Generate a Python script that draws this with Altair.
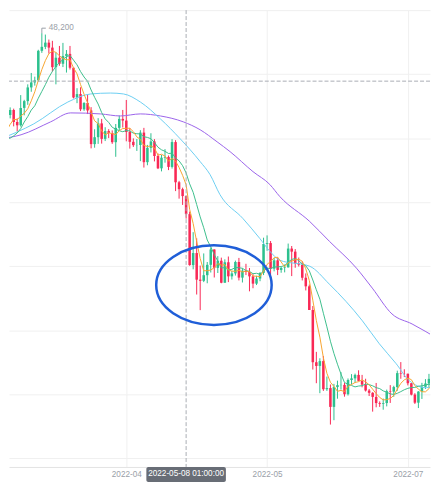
import altair as alt
import pandas as pd

# ---------------- data (daily candles) ----------------
first_day = "2022-03-06"
opens = [
    39400, 38420, 38060, 38740, 41980, 39440, 38790, 38900, 37800, 39670,
    39280, 41140, 40950, 41800, 42190, 41260, 41000, 42360, 42890, 43960,
    44350, 44520, 46820, 47130, 47460, 47070, 45540, 46280, 45810, 46410,
    46580, 45500, 43170, 43440, 42250, 42750, 42160, 39530, 40070, 41150,
    39940, 40550, 40400, 39680, 40800, 41500, 41370, 40480, 39710, 39450,
    39460, 40430, 38120, 39240, 39740, 38600, 37640, 38470, 38530, 37750,
    39690, 36550, 36010, 35470, 34060, 30080, 31020, 28940, 28850, 29290,
    30100, 31300, 29860, 30420, 28700, 30300, 29200, 29430, 30320, 29100,
    29650, 29540, 29200, 28630, 29030, 29470, 31730, 31800, 29800, 30450,
    29700, 29860, 29900, 31370, 31130, 30200, 30110, 29090, 28420, 26570,
    22490, 22200, 22580, 20380, 20470, 19000, 20550, 20700, 20720, 19990,
    21100, 21230, 21500, 21030, 20740, 20280, 20100, 19780, 19300, 19240,
    19300, 20230, 20190, 20550, 21640, 21600, 21590, 20850, 19960, 19330,
    20200, 20570, 20830, 21190, 20790, 22430,
]
highs = [
    39650, 39540, 39360, 42590, 42030, 40240, 39360, 39310, 39920, 39870,
    41720, 41480, 42330, 42400, 42300, 41540, 43360, 42990, 44200, 45090,
    44800, 46900, 48200, 48090, 47700, 47600, 46700, 47200, 47440, 46880,
    47200, 45510, 43900, 43970, 42800, 43420, 42420, 40690, 41560, 41500,
    40850, 40700, 40600, 41100, 41760, 42200, 42980, 40790, 39980, 39930,
    40620, 40800, 39470, 40380, 39920, 38800, 38680, 39140, 38640, 39920,
    39840, 36660, 36130, 35500, 34260, 32650, 32170, 30040, 30990, 30320,
    31450, 31310, 30780, 30660, 30530, 30750, 29620, 30430, 30640, 29830,
    30180, 29850, 29370, 29240, 29520, 32220, 32400, 31960, 30650, 30680,
    29950, 30130, 31760, 31570, 31330, 30670, 30370, 29430, 28560, 26880,
    23300, 22800, 22970, 21370, 20750, 20800, 21050, 21720, 20880, 21220,
    21560, 21600, 21860, 21500, 21200, 20400, 20150, 20870, 19430, 19650,
    20350, 20700, 20650, 21830, 22500, 21940, 21600, 20860, 20070, 20230,
    20880, 21170, 21580, 21650, 22700, 23750,
]
lows = [
    38100, 37160, 38020, 38670, 38560, 38220, 38660, 37580, 37600, 38120,
    38850, 40530, 40220, 41540, 40920, 40520, 40900, 41780, 42600, 43620,
    44100, 44420, 46660, 46950, 46600, 45200, 44200, 45650, 45550, 45120,
    45360, 43100, 42730, 42110, 42130, 41880, 39200, 39250, 39550, 39570,
    39770, 40000, 39550, 38540, 40570, 40830, 39750, 39180, 39310, 39000,
    38200, 37700, 37880, 38880, 38180, 37580, 37400, 38080, 37500, 37620,
    35860, 35270, 34780, 33710, 30030, 29750, 27780, 26560, 28750, 28660,
    29500, 29110, 29460, 28660, 28700, 28750, 28950, 29260, 28880, 28720,
    29300, 28030, 28270, 28520, 28820, 29300, 31200, 29310, 29590, 29300,
    29480, 29510, 29890, 29220, 29870, 29970, 28880, 28100, 26570, 21920,
    20850, 20070, 20250, 20250, 17620, 17960, 19640, 20350, 19800, 19890,
    20750, 20900, 21000, 20530, 20200, 19850, 18630, 18970, 19000, 18780,
    19040, 19310, 19790, 20260, 21200, 21330, 20680, 19900, 19230, 18910,
    19620, 20400, 20500, 20760, 20770, 21600,
]
closes = [
    38420, 38060, 38740, 41980, 39440, 38790, 38900, 37800, 39670, 39280,
    41140, 40950, 41800, 42190, 41260, 41000, 42360, 42890, 43960, 44350,
    44520, 46820, 47130, 47460, 47070, 45540, 46280, 45810, 46410, 46580,
    45500, 43170, 43440, 42250, 42750, 42160, 39530, 40070, 41150, 39940,
    40550, 40400, 39680, 40800, 41500, 41370, 40480, 39710, 39450, 39460,
    40430, 38120, 39240, 39740, 38600, 37640, 38470, 38530, 37750, 39690,
    36550, 36010, 35470, 34060, 30080, 31020, 28940, 28850, 29290, 30100,
    31300, 29860, 30420, 28700, 30300, 29200, 29430, 30320, 29100, 29650,
    29540, 29200, 28630, 29030, 29470, 31730, 31800, 29800, 30450, 29700,
    29860, 29900, 31370, 31130, 30200, 30110, 29090, 28420, 26570, 22490,
    22200, 22580, 20380, 20470, 19000, 20550, 20700, 20720, 19990, 21100,
    21230, 21500, 21030, 20740, 20280, 20100, 19780, 19300, 19240, 19300,
    20230, 20190, 20550, 21640, 21600, 21590, 20850, 19960, 19330, 20200,
    20570, 20830, 21190, 20790, 22430, 23400,
]

# 30- and 60-period averages (day index from 2022-03-16, price)
ma30_i = [0.4, 9.7, 19.4, 25.9, 31.5, 35.2, 40.0, 45.7, 51.3, 57.0, 59.8, 62.6,
          69.1, 73.9, 76.8, 79.6, 88.1, 93.7, 103.1, 107.9, 112.7, 116.4, 121.2, 124.6]
ma30_v = [39950, 41110, 42820, 43450, 43520, 43450, 42820, 41500, 39950, 38160, 37150, 35590,
          33730, 32170, 31160, 30460, 29990, 28590, 25720, 23930, 22370, 21050, 20500, 20660]
ma60_i = [0.4, 6.1, 14.5, 20.2, 28.7, 34.3, 40.0, 45.7, 52.2, 57.0, 61.8, 65.5,
          72.0, 76.8, 79.6, 88.1, 93.7, 101.4, 105.9, 111.5, 117.2, 124.6]
ma60_v = [39950, 40260, 41270, 41970, 41890, 41730, 41890, 41730, 41270, 40650, 39710, 38940,
          37380, 36370, 35440, 33490, 31940, 29840, 28280, 26260, 25480, 24320]

tick_dates = ["2022-04-21", "2022-05-31", "2022-07-10"]
tick_labels = ["2022-04", "2022-05", "2022-07"]

cross_date = "2022-05-08"
cross_label = "2022-05-08 01:00:00"
cross_price = 44450

ellipse_date = 60.9
ellipse_price = 28515

# ---------------- frames ----------------
origin = pd.Timestamp("2022-03-16")
n = len(closes)
assert len(opens) == len(highs) == len(lows) == n
dates = pd.date_range(first_day, periods=n, freq="D")
idx = [(d - origin).days for d in dates]
df = pd.DataFrame({"i": idx, "open": opens, "high": highs, "low": lows, "close": closes})
df["dir"] = ["up" if c >= o else "down" for o, c in zip(opens, closes)]
df["b0"] = df["i"] - 0.36
df["b1"] = df["i"] + 0.36

tick_idx = [(pd.Timestamp(t) - origin).days for t in tick_dates]
label_expr = " : ".join(
    f"datum.value == {v} ? '{l}'" for v, l in zip(tick_idx[:-1], tick_labels[:-1])
) + f" : '{tick_labels[-1]}'"

cross_i = (pd.Timestamp(cross_date) - origin).days

UP, DOWN = "#2DC08E", "#F92855"
GRID = "#F0F0F0"
FONT = "Liberation Sans"
FS = 8.2

W, H = 423, 459
x_scale = alt.Scale(domain=[2.67, 2.67 + W / 3.536], nice=False, zero=False)
y_scale = alt.Scale(domain=[14308, 50000], nice=False, zero=False)
color_scale = alt.Scale(domain=["up", "down"], range=[UP, DOWN])

x_axis = alt.Axis(values=tick_idx, labelExpr=label_expr, grid=True, gridColor=GRID,
                  ticks=False, domain=True, domainColor="#E3E3E3", labelColor="#9AA0A8",
                  labelFontSize=FS, labelFont=FONT, labelPadding=4,
                  title=None, minExtent=0, labelFlush=False)
y_axis = alt.Axis(values=list(range(15000, 50001, 5000)), grid=True, gridColor=GRID,
                  labels=False, ticks=False, domain=False, title=None, minExtent=0)

wicks = alt.Chart(df).mark_rule(strokeWidth=1, clip=True).encode(
    x=alt.X("i:Q", scale=x_scale, axis=x_axis),
    y=alt.Y("low:Q", scale=y_scale, axis=y_axis),
    y2="high:Q",
    color=alt.Color("dir:N", scale=color_scale, legend=None),
)
bodies = alt.Chart(df).mark_bar(clip=True).encode(
    x="b0:Q", x2="b1:Q", y="open:Q", y2="close:Q",
    color=alt.Color("dir:N", scale=color_scale, legend=None),
)

ma_base = (
    alt.Chart(df)
    .transform_window(ma5="mean(close)", frame=[-4, 0], sort=[alt.SortField("i")])
    .transform_window(ma10="mean(close)", frame=[-9, 0], sort=[alt.SortField("i")])
    .transform_filter("datum.i >= -1")
)
ma5 = ma_base.mark_line(color="#F7A531", strokeWidth=1, clip=True).encode(x="i:Q", y="ma5:Q")
ma10 = ma_base.mark_line(color="#3DBE8C", strokeWidth=1, clip=True).encode(x="i:Q", y="ma10:Q")
ma30 = alt.Chart(pd.DataFrame({"i": ma30_i, "v": ma30_v})).mark_line(
    color="#6DCFF2", strokeWidth=1, clip=True, interpolate="monotone").encode(x="i:Q", y="v:Q")
ma60 = alt.Chart(pd.DataFrame({"i": ma60_i, "v": ma60_v})).mark_line(
    color="#9B64EA", strokeWidth=1, clip=True, interpolate="monotone").encode(x="i:Q", y="v:Q")

cross_df = pd.DataFrame({"i": [cross_i], "p": [cross_price], "l": [cross_i - 11.3],
                         "r": [cross_i + 11.3], "label": [cross_label]})
cross_v = alt.Chart(cross_df).mark_rule(color="#A9ADB4", strokeWidth=1, strokeDash=[4, 2]).encode(x="i:Q")
cross_h = alt.Chart(cross_df).mark_rule(color="#A9ADB4", strokeWidth=1, strokeDash=[4, 2]).encode(y="p:Q")
cross_box = alt.Chart(cross_df).mark_rect(color="#686D76", cornerRadius=2).encode(
    x="l:Q", x2="r:Q", y=alt.value(459), y2=alt.value(474))
cross_text = alt.Chart(cross_df).mark_text(color="#FFFFFF", fontSize=FS, font=FONT,
                                           baseline="middle", align="center").encode(
    x="i:Q", y=alt.value(466.5), text="label:N")

ell_path = ("M -1 0 C -1 -0.381 -0.5523 -0.69 0 -0.69 C 0.5523 -0.69 1 -0.381 1 0 "
            "C 1 0.381 0.5523 0.69 0 0.69 C -0.5523 0.69 -1 0.381 -1 0 Z")
ellipse = alt.Chart(pd.DataFrame({"i": [ellipse_date], "p": [ellipse_price]})).mark_point(
    shape=ell_path, size=13456, filled=False, stroke="#1F5ED8", strokeWidth=2.5, opacity=1
).encode(x="i:Q", y="p:Q")

vis = df[(df["i"] >= 0) & (df["i"] <= 124)]
peak_row = vis.loc[vis["high"].idxmax()]
peak_df = pd.DataFrame({"i": [peak_row["i"]], "p": [peak_row["high"]],
                        "t": [f"{int(peak_row['high']):,}"]})
peak_mark = alt.Chart(peak_df).mark_point(
    shape="M 0 0 L 0 -1 L 0.8 -1", size=100, filled=False, stroke="#9AA0A8",
    strokeWidth=1, opacity=1).encode(x="i:Q", y="p:Q")
peak_text = alt.Chart(peak_df).mark_text(
    color="#9AA0A8", fontSize=FS, font=FONT, align="left", baseline="middle",
    dx=7, dy=-5).encode(x="i:Q", y="p:Q", text="t:N")

chart = alt.layer(
    wicks, bodies, ma60, ma30, ma10, ma5, cross_v, cross_h,
    ellipse, peak_mark, peak_text, cross_box, cross_text,
).properties(width=W, height=H, padding=0).configure_view(stroke=None)

chart.save("out.html", embed_options={"renderer": "svg", "actions": False})
